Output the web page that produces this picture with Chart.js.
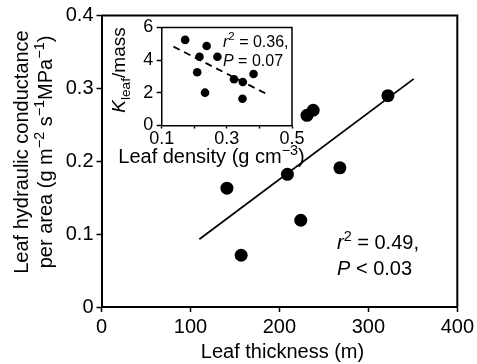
<!DOCTYPE html>
<html>
<head>
<meta charset="utf-8">
<script src="https://cdn.jsdelivr.net/npm/chart.js@4.4.1/dist/chart.umd.min.js"></script>
<style>
  html, body { margin: 0; padding: 0; background: #fff; }
  #wrap { position: relative; width: 477px; height: 364px; }
  #main { position: absolute; left: 0; top: 0; }
  #inset { position: absolute; left: 100px; top: 0; }
</style>
</head>
<body>
<div id="wrap">
  <canvas id="main" width="477" height="364"></canvas>
  <canvas id="inset" width="210" height="175"></canvas>
</div>
<script>
// main panel: leaf thickness vs. hydraulic conductance per area
const thickness = [141, 157, 209, 224, 231, 238, 268, 322];
const conductance = [0.163, 0.071, 0.182, 0.119, 0.263, 0.270, 0.191, 0.290];
const fitThickness = [110, 351];
const fitConductance = [0.093, 0.313];
const mainXTicks = [0, 100, 200, 300, 400];
const mainYTicks = [0, 0.1, 0.2, 0.3, 0.4];

// inset: leaf density vs. Kleaf/mass
const density = [0.172, 0.216, 0.238, 0.271, 0.209, 0.233, 0.322, 0.349, 0.382, 0.348];
const kMass = [5.24, 4.21, 4.87, 4.21, 3.26, 2.01, 2.83, 2.66, 3.15, 1.64];
const fitDensity = [0.136, 0.428];
const fitKMass = [4.83, 1.87];
const insetXLabels = ['0.1', '0.3', '0.5'];

const FONT = "'Liberation Sans', Arial, Helvetica, sans-serif";

// draw a run of text pieces: [text, style] with style '', 'i', 'sup', 'sub'
function drawRich(ctx, x, y, parts, size, align) {
  const fontFor = (st) => {
    const s = (st === 'sup' || st === 'sub') ? size * 0.72 : size;
    return (st === 'i' ? 'italic ' : '') + s + 'px ' + FONT;
  };
  let total = 0;
  parts.forEach(([t, st]) => { ctx.font = fontFor(st); total += ctx.measureText(t).width; });
  let cx = align === 'center' ? x - total / 2 : x;
  ctx.textAlign = 'left';
  ctx.textBaseline = 'alphabetic';
  parts.forEach(([t, st]) => {
    ctx.font = fontFor(st);
    let dy = 0;
    if (st === 'sup') dy = -size * 0.42;
    if (st === 'sub') dy = size * 0.28;
    ctx.fillText(t, cx, y + dy);
    cx += ctx.measureText(t).width;
  });
}

function drawRotated(ctx, x, y, parts, size) {
  ctx.save();
  ctx.translate(x, y);
  ctx.rotate(-Math.PI / 2);
  drawRich(ctx, 0, 0, parts, size, 'center');
  ctx.restore();
}

function boxPlugin(width) {
  return {
    id: 'box',
    afterDraw(chart) {
      const { ctx, chartArea: a } = chart;
      ctx.save();
      ctx.strokeStyle = '#000';
      ctx.lineWidth = width;
      ctx.beginPath();
      ctx.moveTo(a.left, a.top);
      ctx.lineTo(a.right, a.top);
      ctx.lineTo(a.right, a.bottom);
      ctx.stroke();
      ctx.restore();
    }
  };
}

const mainText = {
  id: 'mainText',
  afterDraw(chart) {
    const ctx = chart.ctx;
    ctx.save();
    ctx.fillStyle = '#000';
    drawRotated(ctx, 28, 152, [['Leaf hydraulic conductance', '']], 20);
    drawRotated(ctx, 52, 152, [['per area (g m', ''], ['\u22122', 'sup'], [' s', ''], ['\u22121', 'sup'],
      ['MPa', ''], ['\u22121', 'sup'], [')', '']], 20);
    drawRich(ctx, 282.5, 358, [['Leaf thickness (m)', '']], 20, 'center');
    drawRich(ctx, 337, 249, [['r', 'i'], ['2', 'sup'], [' = 0.49,', '']], 20, 'left');
    drawRich(ctx, 337, 275, [['P', 'i'], [' < 0.03', '']], 20, 'left');
    ctx.restore();
  }
};

const insetText = {
  id: 'insetText',
  afterDraw(chart) {
    const ctx = chart.ctx;
    ctx.save();
    ctx.fillStyle = '#000';
    drawRotated(ctx, 25, 70, [['K', 'i'], ['leaf', 'sub'], ['/mass', '']], 19);
    drawRich(ctx, 111.5, 163, [['Leaf density (g cm', ''], ['\u22123', 'sup'], [')', '']], 20, 'center');
    drawRich(ctx, 123, 46.5, [['r', 'i'], ['2', 'sup'], [' = 0.36,', '']], 16, 'left');
    drawRich(ctx, 123, 65.5, [['P', 'i'], [' = 0.07', '']], 16, 'left');
    ctx.restore();
  }
};

function axisOpts(min, max, step, size, tickLen, pad, fit) {
  return {
    type: 'linear',
    min, max,
    ticks: { stepSize: step, color: '#000', font: { family: FONT, size }, padding: pad, maxRotation: 0 },
    grid: { drawOnChartArea: false, tickLength: tickLen, color: '#000', tickWidth: 1.5 },
    border: { color: '#000', width: 2 },
    afterFit: fit
  };
}

const mainX = axisOpts(0, 400, 100, 20, 5, 3, (s) => { s.height = 57; });
mainX.afterBuildTicks = (s) => { s.ticks = mainXTicks.map((v) => ({ value: v })); };
const mainY = axisOpts(0, 0.4, 0.1, 20, 5, 3, (s) => { s.width = 101.5; });
mainY.afterBuildTicks = (s) => { s.ticks = mainYTicks.map((v) => ({ value: v })); };

new Chart(document.getElementById('main'), {
  type: 'scatter',
  data: {
    datasets: [
      {
        data: thickness.map((x, i) => ({ x, y: conductance[i] })),
        pointRadius: 6.5, backgroundColor: '#000', borderWidth: 0
      },
      {
        data: fitThickness.map((x, i) => ({ x, y: fitConductance[i] })),
        showLine: true, borderColor: '#000', borderWidth: 1.8, pointRadius: 0
      }
    ]
  },
  options: {
    responsive: false,
    animation: false,
    layout: { padding: { top: 15.5, right: 16, left: 0, bottom: 0 } },
    plugins: { legend: { display: false }, tooltip: { enabled: false } },
    scales: { x: mainX, y: mainY }
  },
  plugins: [boxPlugin(2), mainText]
});

const insetX = axisOpts(0.1, 0.5, 0.1, 18, 3, 0, (s) => { s.height = 49.5; });
insetX.ticks.callback = (v) => {
  const k = Math.round(v * 10);
  return k % 2 === 1 ? insetXLabels[(k - 1) / 2] : '';
};
insetX.border.width = 1.5;
const insetY = axisOpts(0, 6, 2, 18, 5, 3.5, (s) => { s.width = 61.7; });
insetY.border.width = 1.5;

new Chart(document.getElementById('inset'), {
  type: 'scatter',
  data: {
    datasets: [
      {
        data: density.map((x, i) => ({ x, y: kMass[i] })),
        pointRadius: 4.3, backgroundColor: '#000', borderWidth: 0
      },
      {
        data: fitDensity.map((x, i) => ({ x, y: fitKMass[i] })),
        showLine: true, borderColor: '#000', borderWidth: 1.8, borderDash: [7, 5], pointRadius: 0
      }
    ]
  },
  options: {
    responsive: false,
    animation: false,
    layout: { padding: { top: 27.5, right: 18, left: 0, bottom: 0 } },
    plugins: { legend: { display: false }, tooltip: { enabled: false } },
    scales: { x: insetX, y: insetY }
  },
  plugins: [boxPlugin(1.5), insetText]
});
</script>
</body>
</html>
